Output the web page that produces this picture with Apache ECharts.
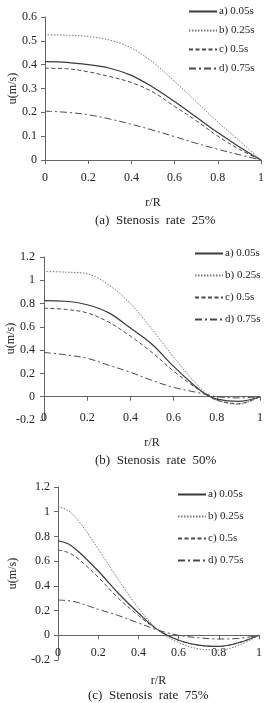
<!DOCTYPE html>
<html>
<head>
<meta charset="utf-8">
<script src="https://cdn.jsdelivr.net/npm/echarts@6/dist/echarts.min.js"></script>
<style>
  html, body { margin: 0; padding: 0; background: #fff; }
  #chart { width: 265px; height: 703px; }
</style>
</head>
<body>
<div id="chart"></div>
<script>
const names = ['a) 0.05s', 'b) 0.25s', 'c) 0.5s', 'd) 0.75s'];

// (a) stenosis rate 25%
const r25 = [0, 0.1, 0.2, 0.3, 0.4, 0.5, 0.6, 0.7, 0.8, 0.9, 1];
const a25 = [0.413, 0.41, 0.40, 0.385, 0.355, 0.305, 0.245, 0.18, 0.115, 0.055, 0];
const b25 = [0.525, 0.524, 0.518, 0.503, 0.47, 0.41, 0.33, 0.245, 0.16, 0.08, 0];
const c25 = [0.385, 0.383, 0.37, 0.35, 0.325, 0.285, 0.225, 0.165, 0.1, 0.045, 0];
const d25 = [0.205, 0.2, 0.19, 0.172, 0.15, 0.125, 0.098, 0.07, 0.045, 0.022, 0];

// (b) stenosis rate 50%
const r50 = [0, 0.1, 0.2, 0.3, 0.4, 0.5, 0.6, 0.7, 0.75, 0.8, 0.9, 1];
const a50 = [0.825, 0.82, 0.79, 0.72, 0.59, 0.45, 0.26, 0.09, 0.02, -0.02, -0.04, 0];
const b50 = [1.075, 1.07, 1.055, 0.96, 0.8, 0.58, 0.34, 0.12, 0.03, -0.03, -0.065, 0];
const c50 = [0.76, 0.75, 0.72, 0.64, 0.52, 0.38, 0.22, 0.08, 0.02, -0.03, -0.06, 0];
const d50 = [0.38, 0.36, 0.33, 0.27, 0.21, 0.14, 0.08, 0.04, 0.02, 0.0, -0.01, 0];

// (c) stenosis rate 75%
const r75 = [0, 0.05, 0.1, 0.2, 0.3, 0.4, 0.5, 0.6, 0.7, 0.8, 0.9, 1];
const a75 = [0.765, 0.74, 0.68, 0.52, 0.34, 0.18, 0.04, -0.04, -0.08, -0.09, -0.06, 0];
const b75 = [1.04, 1.01, 0.93, 0.70, 0.45, 0.22, 0.04, -0.06, -0.11, -0.12, -0.08, 0];
const c75 = [0.69, 0.67, 0.62, 0.47, 0.30, 0.16, 0.04, -0.04, -0.08, -0.09, -0.06, 0];
const d75 = [0.285, 0.28, 0.265, 0.21, 0.16, 0.10, 0.04, 0.0, -0.02, -0.03, -0.025, 0];

const yTicks25 = { min: 0, max: 0.6, interval: 0.1 };
const yTicks = { min: -0.2, max: 1.2, interval: 0.2 };

const font = 'Liberation Serif';
const styles = [
  { color: '#3a3a3a', width: 1.2, type: 'solid' },
  { color: '#777', width: 1, type: [1.5, 1.5] },
  { color: '#4a4a4a', width: 1, type: [4, 2.5] },
  { color: '#4a4a4a', width: 1, type: [7, 3, 2, 3] }
];

function pairs(r, v) { return r.map((x, i) => [x, v[i]]); }

function lines(r, sets, xi, yi) {
  return sets.map((v, k) => ({
    name: names[k], type: 'line', xAxisIndex: xi, yAxisIndex: yi,
    data: pairs(r, v), symbol: 'none', smooth: 0.35, silent: true,
    itemStyle: { color: 'rgba(0,0,0,0)' },
    lineStyle: styles[k]
  }));
}

const lbl = { color: '#222', fontFamily: font, fontSize: 12 };
const axLine = { lineStyle: { color: '#666', width: 1 } };

function xLabels(grid, margin, nameGap, showLine) {
  return {
    type: 'value', gridIndex: grid, min: 0, max: 1, interval: 0.2, position: 'bottom',
    axisLine: { show: showLine, onZero: false, lineStyle: axLine.lineStyle },
    axisTick: { show: showLine, length: 4, lineStyle: axLine.lineStyle },
    splitLine: { show: false },
    axisLabel: Object.assign({ margin: margin, formatter: v => String(+v.toFixed(1)) }, lbl),
    name: 'r/R', nameLocation: 'middle', nameGap: nameGap, nameMoveOverlap: false,
    nameTextStyle: { color: '#222', fontFamily: font, fontSize: 12 }
  };
}

function xZero(grid) {
  return {
    type: 'value', gridIndex: grid, min: 0, max: 1, interval: 0.2, position: 'top',
    axisLine: { show: true, onZero: true, lineStyle: axLine.lineStyle },
    axisTick: { show: true, inside: true, length: 4, lineStyle: axLine.lineStyle },
    axisLabel: { show: false }, splitLine: { show: false }
  };
}

function yAxis(grid, t, margin, nameGap) {
  return {
    type: 'value', gridIndex: grid, min: t.min, max: t.max, interval: t.interval,
    axisLine: { show: true, onZero: false, lineStyle: axLine.lineStyle },
    axisTick: { show: true, length: 4, lineStyle: axLine.lineStyle },
    splitLine: { show: false },
    axisLabel: Object.assign({ margin: margin, formatter: v => String(+v.toFixed(1)) }, lbl),
    name: 'u(m/s)', nameLocation: 'middle', nameGap: nameGap, nameMoveOverlap: false,
    nameTextStyle: { color: '#222', fontFamily: font, fontSize: 12 }
  };
}

function legend(left, top, gap) {
  return {
    data: names, orient: 'vertical', left: left, top: top,
    itemWidth: 28, itemHeight: 10, itemGap: gap, selectedMode: false,
    textStyle: { color: '#222', fontFamily: font, fontSize: 11, padding: [0, 0, 0, -3] }
  };
}

function caption(text, left, top) {
  return { text: text, left: left, top: top, padding: 0,
    textStyle: { color: '#222', fontFamily: font, fontSize: 13, fontWeight: 'normal' } };
}

const chart = echarts.init(document.getElementById('chart'), null, { renderer: 'canvas' });
chart.setOption({
  animation: false,
  backgroundColor: '#fff',
  title: [
    caption('(a)  Stenosis  rate  25%', 95, 214),
    caption('(b)  Stenosis  rate  50%', 95, 454),
    caption('(c)  Stenosis  rate  75%', 88, 689)
  ],
  legend: [legend(183, 1, 8), legend(189, 243, 11), legend(172, 484, 11)],
  grid: [
    { left: 45, right: 4, top: 17, height: 143, outerBoundsMode: 'none' },
    { left: 44, right: 5, top: 257, height: 163, outerBoundsMode: 'none' },
    { left: 58, right: 6, top: 487, height: 173, outerBoundsMode: 'none' }
  ],
  xAxis: [
    xLabels(0, 12, 37, true),
    xLabels(1, -8, 17, false),
    xZero(1),
    xLabels(2, -13, 15, false),
    xZero(2)
  ],
  yAxis: [
    yAxis(0, yTicks25, 8, 26),
    yAxis(1, yTicks, 9, 27),
    yAxis(2, yTicks, 8, 39)
  ],
  series: [].concat(
    lines(r25, [a25, b25, c25, d25], 0, 0),
    lines(r50, [a50, b50, c50, d50], 1, 1),
    lines(r75, [a75, b75, c75, d75], 3, 2)
  )
});
</script>
</body>
</html>
